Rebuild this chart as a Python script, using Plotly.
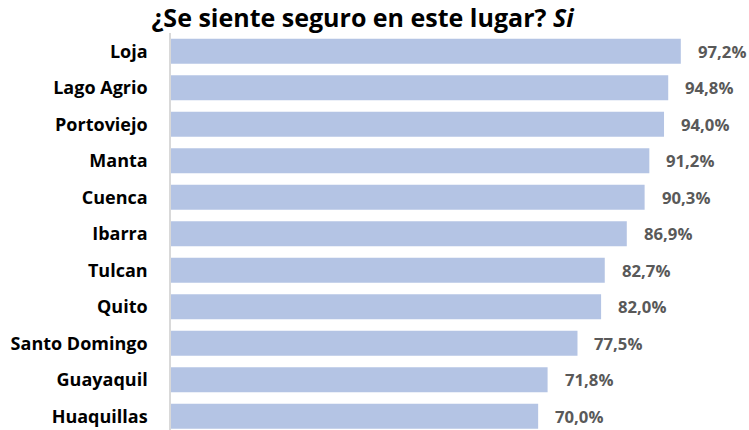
import plotly.graph_objects as go

cities = ["Loja", "Lago Agrio", "Portoviejo", "Manta", "Cuenca", "Ibarra",
          "Tulcan", "Quito", "Santo Domingo", "Guayaquil", "Huaquillas"]
values = [97.2, 94.8, 94.0, 91.2, 90.3, 86.9, 82.7, 82.0, 77.5, 71.8, 70.0]
labels = [f"{v:.1f}%".replace(".", ",") for v in values]

bar_color = "#B4C4E4"
text_color = "#595959"
font_family = "Open Sans"

fig = go.Figure(go.Bar(
    x=values,
    y=cities,
    orientation="h",
    marker=dict(color=bar_color, line=dict(width=0)),
    width=0.68,
    hoverinfo="skip",
))

for c, v, t in zip(cities, values, labels):
    fig.add_annotation(x=v, y=c, text=f"<b>{t}</b>", showarrow=False,
                       xanchor="left", xshift=15,
                       font=dict(family=font_family, size=16.7, color=text_color))

fig.update_layout(
    width=749, height=430,
    margin=dict(l=171, r=0, t=33, b=0),
    paper_bgcolor="white", plot_bgcolor="white",
    showlegend=False,
    title=dict(text="<b>¿Se siente seguro en este lugar? <i>Si</i></b>",
               x=0.484, xanchor="center", y=0.958, yanchor="middle",
               font=dict(family=font_family, size=25, color="black")),
    xaxis=dict(range=[0, 110.2], visible=False, fixedrange=True),
    yaxis=dict(range=[10.377, -0.5], showgrid=False, showline=True,
               linecolor="#D9D9D9", linewidth=1.5, ticks="",
               ticklabelstandoff=18,
               tickfont=dict(family=font_family, size=18, color="black")),
)
fig.update_yaxes(tickprefix="<b>", ticksuffix="</b>")

fig.write_html("out.html")
